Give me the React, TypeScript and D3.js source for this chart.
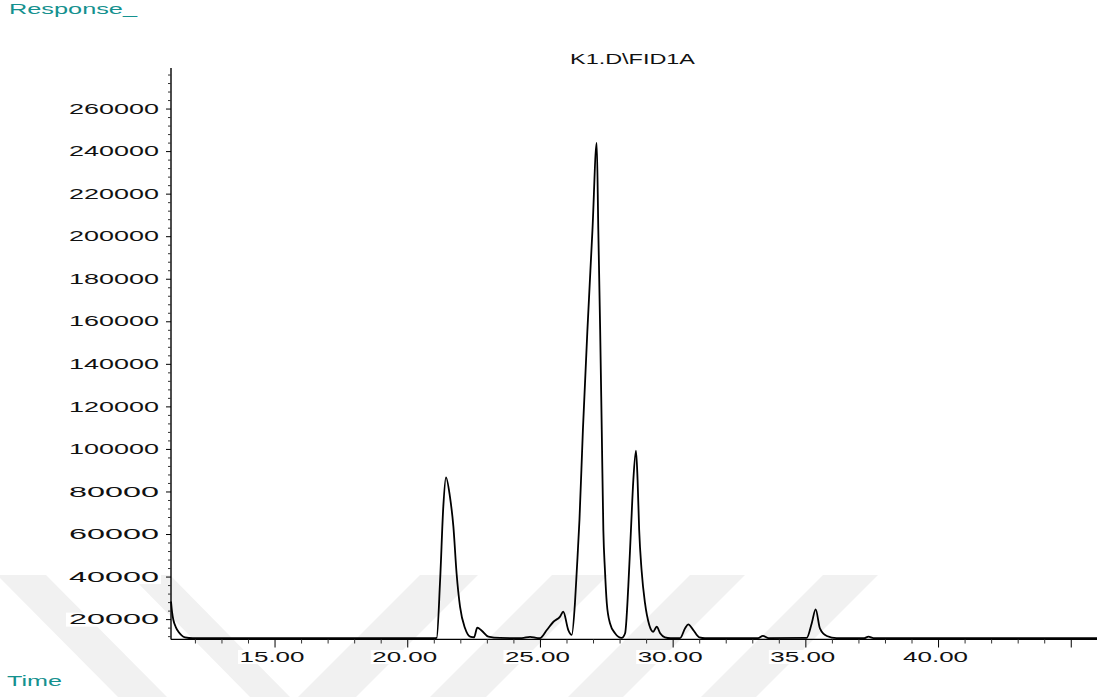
import React from 'react';
import * as d3 from 'd3';

// retention time (min) and detector response
const times = [
  11.08, 11.12, 11.17, 11.26, 11.36, 11.48, 11.61, 11.9, 21.0, 21.09,
  21.22, 21.34, 21.44, 21.59, 21.72, 21.84, 21.97, 22.16, 22.35, 22.5,
  22.62, 22.79, 23.04, 23.48, 24.3, 24.61, 24.9, 24.98, 25.24, 25.49,
  25.74, 25.86, 26.05, 26.18, 26.3, 26.37, 26.47, 26.6, 26.77, 26.96,
  27.12, 27.18, 27.25, 27.31, 27.37, 27.43, 27.5, 27.62, 27.81, 28.06,
  28.19, 28.31, 28.41, 28.5, 28.6, 28.66, 28.72, 28.81, 28.94, 29.1,
  29.25, 29.38, 29.51, 29.69, 29.9, 30.26, 30.45, 30.57, 30.76, 30.99,
  31.2, 33.2, 33.38, 33.6, 35.03, 35.22, 35.37, 35.53, 35.79, 36.16,
  37.2, 37.36, 37.55, 45.97,
];
const response = [
  28500, 23500, 19800, 16500, 14300, 12600, 11700, 11300, 11300, 11400,
  38600, 73100, 86900, 77800, 63700, 41800, 26100, 15900, 12000, 11700,
  16200, 14800, 12000, 11400, 11300, 11900, 11300, 11300, 15100, 19000,
  21400, 23700, 15100, 12800, 27700, 43300, 66800, 109200, 156200, 203200,
  244100, 203200, 156200, 109200, 62100, 43300, 27700, 18300, 13600, 11400,
  13600, 35500, 62100, 85600, 99400, 85600, 62100, 43300, 27700, 17500,
  14300, 16700, 13600, 11700, 11300, 11300, 15900, 17800, 15100, 11700,
  11300, 11300, 12400, 11300, 11400, 18200, 24800, 15900, 12300, 11300,
  11300, 12000, 11300, 11300,
];

const xMajorTicks = [15, 20, 25, 30, 35, 40, 45];
const xLabelTicks = [15, 20, 25, 30, 35, 40];
const yLabelTicks = [20000, 40000, 60000, 80000, 100000, 120000, 140000, 160000, 180000, 200000, 220000, 240000, 260000];

const teal = '#15918f';
const font = '"Liberation Sans", Arial, sans-serif';

export default function App() {
  const width = 1105;
  const height = 697;
  const x = d3.scaleLinear().domain([11.08, 45.97]).range([171, 1097]);
  const y = d3.scaleLinear().domain([10700, 279300]).range([639.4, 68]);

  const pts = times.map((t, i) => [t, response[i]] as [number, number]);
  const line = d3
    .line<[number, number]>()
    .x((d) => x(d[0]))
    .y((d) => y(d[1]))
    .curve(d3.curveMonotoneX);

  const xMinor = d3.range(12, 46).filter((t) => t % 5 !== 0);
  const yMinor = d3.range(12000, 279000, 4000).filter((v) => v % 20000 !== 0);
  const fmt = d3.format('.2f');

  // faint diagonal watermark bands: [topLeft, topRight, bottomLeft, bottomRight]
  const bands = [
    [-3, 46, 118, 167],
    [130, 170, 250, 290],
    [420, 478, 298, 356],
    [552, 608, 430, 486],
    [690, 745, 568, 623],
    [823, 878, 701, 756],
  ];

  return (
    <svg width={width} height={height} style={{ display: 'block', position: 'absolute', left: 0, top: 0 }}>
      <rect width={width} height={height} fill="#fff" />
      {bands.map((b, i) => (
        <polygon
          key={i}
          points={`${b[0]},575 ${b[1]},575 ${b[3]},697 ${b[2]},697`}
          fill="#f1f1f1"
        />
      ))}

      <text x={9} y={13.5} fill={teal} fontFamily={font} fontSize={14} textLength={128} lengthAdjust="spacingAndGlyphs">
        Response_
      </text>
      <text x={7} y={686} fill={teal} fontFamily={font} fontSize={14} textLength={55} lengthAdjust="spacingAndGlyphs">
        Time
      </text>
      <text x={570} y={64} fill="#111" fontFamily={font} fontSize={15} textLength={125} lengthAdjust="spacingAndGlyphs">
        {'K1.D\\FID1A'}
      </text>

      {/* y axis */}
      <line x1={171} x2={171} y1={68} y2={639.4} stroke="#000" strokeWidth={1.4} />
      {yMinor.map((v) => (
        <line key={v} x1={168} x2={171} y1={y(v)} y2={y(v)} stroke="#333" strokeWidth={1} />
      ))}
      {yLabelTicks.map((v) => (
        <g key={v}>
          <rect x={66} y={y(v) - 7} width={95} height={14} fill="#fff" />
          <line x1={166} x2={171} y1={y(v)} y2={y(v)} stroke="#000" strokeWidth={1} />
          <text
            x={159}
            y={y(v) + 4.7}
            textAnchor="end"
            fill="#111"
            fontFamily={font}
            fontSize={14}
            textLength={90}
            lengthAdjust="spacingAndGlyphs"
          >
            {v}
          </text>
        </g>
      ))}

      {/* x axis */}
      <line x1={171} x2={1097} y1={639.4} y2={639.4} stroke="#000" strokeWidth={1.4} />
      {xMinor.map((t) => (
        <line key={t} x1={x(t)} x2={x(t)} y1={639.4} y2={643.5} stroke="#333" strokeWidth={1} />
      ))}
      {xMajorTicks.map((t) => (
        <line key={t} x1={x(t)} x2={x(t)} y1={639.4} y2={647.5} stroke="#000" strokeWidth={1} />
      ))}
      {xLabelTicks.map((t) => (
        <g key={t}>
          <rect x={x(t) - 37} y={650} width={68} height={14} fill="#fff" />
          <text
            x={x(t) - 3}
            y={661.7}
            textAnchor="middle"
            fill="#111"
            fontFamily={font}
            fontSize={14}
            textLength={65}
            lengthAdjust="spacingAndGlyphs"
          >
            {fmt(t)}
          </text>
        </g>
      ))}

      <path d={line(pts) ?? ''} fill="none" stroke="#000" strokeWidth={1.8} strokeLinejoin="round" />
    </svg>
  );
}
